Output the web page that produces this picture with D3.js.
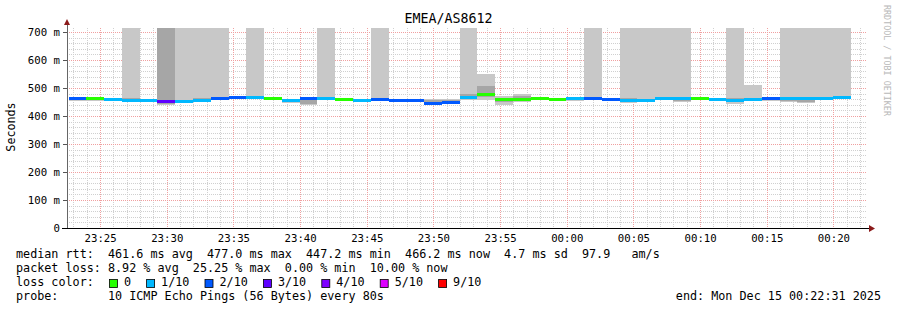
<!DOCTYPE html>
<html>
<head>
<meta charset="utf-8">
<script src="https://cdn.jsdelivr.net/npm/d3@7"></script>
<style>
  html, body { margin: 0; padding: 0; background: #fff; }
  svg text { font-family: "DejaVu Sans Mono", monospace; }
</style>
</head>
<body>
<div id="chart"></div>
<script>
// time window of the graph
const startTime = new Date(2025, 11, 14, 23, 22, 31);
const endTime = new Date(2025, 11, 15, 0, 22, 31);
const firstStepEnd = new Date(2025, 11, 14, 23, 23, 58);
const stepSeconds = 80;

// median rtt per 80s step (ms)
const medianMs = [461, 464, 459, 455, 456, 453, 451, 456, 463, 465, 465, 462, 455, 461, 464, 459,
  457, 460, 457, 455, 446, 450, 465, 476, 460, 458, 463, 459, 461, 463, 459, 457,
  457, 462, 461, 461, 459, 457, 460, 461, 462, 462, 463, 466];
// lost pings out of 10 per step
const lossCount = [2, 0, 1, 1, 1, 3, 1, 1, 2, 2, 1, 0, 1, 2, 1, 0,
  1, 2, 2, 2, 2, 2, 1, 0, 0, 0, 0, 0, 1, 2, 2, 1,
  1, 1, 1, 0, 1, 1, 1, 2, 1, 1, 1, 1];
// smoke: outer range (min..max ping) and inner range, ms (800 = off the top)
const smokeLo = [455, 455, 452, 452, 452, 440, 446, 452, 458, 460, 460, 456, 447, 439, 458, 454,
  452, 456, 453, 450, 443, 447, 458, 457, 439, 450, 459, 455, 455, 458, 453, 448,
  452, 458, 450, 456, 455, 443, 455, 454, 450, 445, 458, 460];
const smokeHi = [468, 467, 464, 800, 460, 800, 800, 800, 800, 469, 800, 466, 462, 466, 800, 464,
  462, 800, 462, 460, 460, 462, 800, 550, 471, 478, 466, 463, 468, 800, 466, 800,
  800, 800, 800, 465, 463, 800, 511, 466, 800, 800, 800, 800];
const innerLo = [456, 457, 455, 454, 453, 444, 448, 455, 460, 462, 462, 458, 450, 443, 460, 456,
  454, 458, 455, 452, 444, 448, 462, 468, 450, 454, 460, 457, 457, 460, 455, 451,
  454, 460, 455, 458, 457, 450, 457, 456, 453, 450, 460, 462];
const innerHi = [464, 465, 462, 465, 459, 800, 458, 465, 468, 468, 468, 464, 460, 464, 467, 462,
  460, 464, 460, 458, 456, 458, 480, 507, 466, 470, 465, 462, 466, 467, 463, 466,
  460, 465, 464, 464, 462, 466, 464, 464, 466, 466, 466, 468];

const lossColors = ['#26ff00', '#00b8ff', '#0059ff', '#5e00ff', '#7e00ff', '#dd00ff',
  '#dd00ff', '#ff0000', '#ff0000', '#ff0000', '#ff0000'];
const legendLabels = ['0', '1/10', '2/10', '3/10', '4/10', '5/10', '9/10'];
const legendColors = ['#26ff00', '#00b8ff', '#0059ff', '#5e00ff', '#7e00ff', '#dd00ff', '#ff0000'];

const legendLines = [
  'median rtt:  461.6 ms avg  477.0 ms max  447.2 ms min  466.2 ms now  4.7 ms sd  97.9   am/s',
  'packet loss: 8.92 % avg  25.25 % max  0.00 % min  10.00 % now',
  'loss color:',
  'probe:       10 ICMP Echo Pings (56 Bytes) every 80s'
];
const titleText = 'EMEA/AS8612';
const endText = 'end: Mon Dec 15 00:22:31 2025';

const width = 897, height = 310;
const plot = {left: 67, right: 867, top: 28, bottom: 228};

const svg = d3.select('#chart').append('svg')
  .attr('width', width)
  .attr('height', height);

svg.append('rect').attr('width', width).attr('height', height).attr('fill', '#fff');

const x = d3.scaleTime()
  .domain([startTime, endTime])
  .range([plot.left, plot.right]);

const y = d3.scaleLinear()
  .domain([0, 200 / 0.28])
  .range([plot.bottom, plot.top]);

svg.append('clipPath').attr('id', 'plotclip')
  .append('rect')
  .attr('x', plot.left).attr('y', plot.top)
  .attr('width', plot.right - plot.left).attr('height', plot.bottom - plot.top);

// grid
const grid = svg.append('g').attr('shape-rendering', 'crispEdges');
grid.selectAll('.vminor')
  .data(x.ticks(d3.timeMinute.every(1)))
  .enter().append('line')
    .attr('x1', d => Math.round(x(d)) + 0.5).attr('x2', d => Math.round(x(d)) + 0.5)
    .attr('y1', plot.top).attr('y2', plot.bottom)
    .attr('stroke', '#d0d0d0').attr('stroke-dasharray', '1,1');
grid.selectAll('.hminor')
  .data(y.ticks(35))
  .enter().append('line')
    .attr('x1', plot.left).attr('x2', plot.right)
    .attr('y1', d => Math.round(y(d)) + 0.5).attr('y2', d => Math.round(y(d)) + 0.5)
    .attr('stroke', '#d0d0d0').attr('stroke-dasharray', '1,1');
grid.selectAll('.vmajor')
  .data(x.ticks(d3.timeMinute.every(5)))
  .enter().append('line')
    .attr('x1', d => Math.round(x(d)) + 0.5).attr('x2', d => Math.round(x(d)) + 0.5)
    .attr('y1', plot.top).attr('y2', plot.bottom)
    .attr('stroke', '#f0a0a0').attr('stroke-dasharray', '1,1');
grid.selectAll('.hmajor')
  .data(y.ticks(7))
  .enter().append('line')
    .attr('x1', plot.left).attr('x2', plot.right)
    .attr('y1', d => Math.round(y(d)) + 0.5).attr('y2', d => Math.round(y(d)) + 0.5)
    .attr('stroke', '#f0a0a0').attr('stroke-dasharray', '1,1');

// steps
const steps = medianMs.map((m, i) => {
  const t1 = new Date(firstStepEnd.getTime() + i * stepSeconds * 1000);
  const t0 = new Date(t1.getTime() - stepSeconds * 1000);
  return {t0, t1, median: m, loss: lossCount[i], lo: smokeLo[i], hi: smokeHi[i],
    ilo: innerLo[i], ihi: innerHi[i]};
});

const dataViz = svg.append('g').attr('clip-path', 'url(#plotclip)')
  .attr('shape-rendering', 'crispEdges');

dataViz.selectAll('.smoke')
  .data(steps)
  .enter().append('rect')
    .attr('x', d => x(d.t0))
    .attr('width', d => x(d.t1) - x(d.t0))
    .attr('y', d => y(d.hi))
    .attr('height', d => y(d.lo) - y(d.hi))
    .attr('fill', '#c8c8c8');

dataViz.selectAll('.core')
  .data(steps)
  .enter().append('rect')
    .attr('x', d => x(d.t0))
    .attr('width', d => x(d.t1) - x(d.t0))
    .attr('y', d => y(d.ihi))
    .attr('height', d => y(d.ilo) - y(d.ihi))
    .attr('fill', '#a6a6a6');

dataViz.selectAll('.median')
  .data(steps)
  .enter().append('rect')
    .attr('x', d => x(d.t0))
    .attr('width', d => x(d.t1) - x(d.t0))
    .attr('y', d => y(d.median) - 1.5)
    .attr('height', 3)
    .attr('fill', d => lossColors[d.loss]);

// axes
const xAxis = svg.append('g')
  .attr('transform', 'translate(0,' + plot.bottom + ')')
  .call(d3.axisBottom(x)
    .ticks(d3.timeMinute.every(5))
    .tickFormat(d3.timeFormat('%H:%M'))
    .tickSize(0)
    .tickPadding(6));
xAxis.select('.domain').remove();
xAxis.selectAll('text').attr('font-size', '10.7px').attr('fill', '#000')
  .attr('font-family', '"DejaVu Sans Mono", monospace');

const yAxis = svg.append('g')
  .attr('transform', 'translate(' + plot.left + ',0)')
  .call(d3.axisLeft(y)
    .ticks(7)
    .tickFormat(d => d === 0 ? '0' : d3.format('d')(d) + ' m')
    .tickSize(4)
    .tickPadding(3));
yAxis.select('.domain').remove();
yAxis.selectAll('line').attr('stroke', '#555');
yAxis.selectAll('text').attr('font-size', '10.7px').attr('fill', '#000')
  .attr('font-family', '"DejaVu Sans Mono", monospace');

svg.append('line')
  .attr('x1', plot.left + 0.5).attr('x2', plot.left + 0.5)
  .attr('y1', plot.bottom).attr('y2', 22)
  .attr('stroke', '#666').attr('shape-rendering', 'crispEdges');
svg.append('line')
  .attr('x1', 62).attr('x2', 870)
  .attr('y1', plot.bottom + 0.5).attr('y2', plot.bottom + 0.5)
  .attr('stroke', '#000').attr('shape-rendering', 'crispEdges');
svg.append('path')
  .attr('d', 'M64,25 L70,25 L67,19 Z')
  .attr('fill', '#8b1a1a');
svg.append('path')
  .attr('d', 'M869,225 L869,232 L875,228.5 Z')
  .attr('fill', '#8b1a1a');

// titles
svg.append('text')
  .attr('x', width / 2).attr('y', 23)
  .attr('text-anchor', 'middle')
  .attr('font-size', '13.3px')
  .text(titleText);

svg.append('text')
  .attr('transform', 'translate(15,127) rotate(-90)')
  .attr('text-anchor', 'middle')
  .attr('font-size', '11.7px')
  .text('Seconds');

svg.append('text')
  .attr('transform', 'translate(884,5) rotate(90)')
  .attr('font-size', '8.4px')
  .attr('fill', '#b8b8b8')
  .text('RRDTOOL / TOBI OETIKER');

// legend
const legendY = [257.5, 271.7, 286, 300];
svg.selectAll('.legend')
  .data(legendLines)
  .enter().append('text')
    .attr('x', 16)
    .attr('y', (d, i) => legendY[i])
    .attr('font-size', '11.75px')
    .style('white-space', 'pre')
    .text(d => d);

let lx = 109;
legendLabels.forEach((label, i) => {
  svg.append('rect')
    .attr('x', lx + 0.5).attr('y', 279.5)
    .attr('width', 8).attr('height', 8)
    .attr('fill', legendColors[i])
    .attr('stroke', '#000').attr('stroke-width', 0.8);
  svg.append('text')
    .attr('x', lx + 15).attr('y', legendY[2])
    .attr('font-size', '11.75px')
    .text(label);
  lx += 15 + label.length * 7.1 + 15;
});

svg.append('text')
  .attr('x', 881).attr('y', legendY[3])
  .attr('text-anchor', 'end')
  .attr('font-size', '11.75px')
  .style('white-space', 'pre')
  .text(endText);
</script>
</body>
</html>
